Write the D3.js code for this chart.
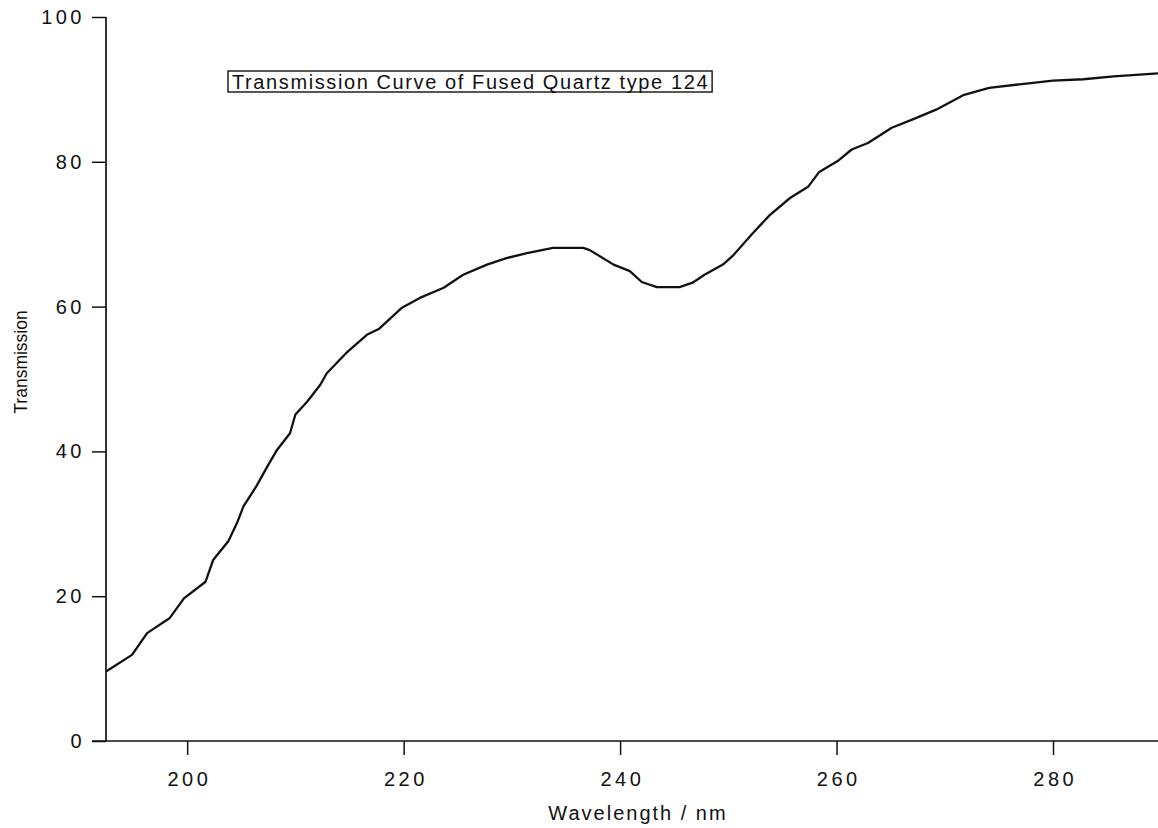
<!DOCTYPE html>
<html>
<head>
<meta charset="utf-8">
<script src="https://cdn.jsdelivr.net/npm/d3@7"></script>
<style>
  html, body { margin: 0; padding: 0; background: #fff; }
  svg { display: block; }
  text { font-family: "Liberation Sans", Arial, Helvetica, sans-serif; fill: #111; }
</style>
</head>
<body>
<svg id="chart" width="1158" height="828"></svg>
<script>
// Transmission spectrum of fused quartz type 124
const wavelength = [
  192.5, 194.9, 196.3, 198.4, 199.7, 201.7, 202.4, 203.8, 204.6, 205.2,
  206.4, 207.4, 208.3, 209.5, 210.0, 211.1, 212.3, 212.9, 214.7, 216.6,
  217.7, 219.8, 221.5, 223.7, 225.5, 227.7, 229.5, 231.4, 233.8, 236.6,
  237.2, 239.4, 240.9, 242.0, 243.4, 245.5, 246.7, 247.8, 249.5, 250.4,
  252.3, 253.8, 255.7, 257.4, 258.4, 260.1, 261.4, 262.9, 265.1, 267.1,
  269.2, 271.7, 274.1, 276.9, 280.0, 282.8, 285.6, 289.7
];
const transmission = [
  9.6, 11.9, 14.9, 17.0, 19.7, 22.0, 25.0, 27.6, 30.1, 32.4,
  35.2, 37.9, 40.2, 42.5, 45.1, 46.9, 49.2, 50.8, 53.6, 56.1,
  56.9, 59.8, 61.2, 62.6, 64.4, 65.8, 66.7, 67.4, 68.1, 68.1,
  67.8, 65.8, 64.9, 63.4, 62.7, 62.7, 63.3, 64.4, 65.8, 67.0,
  70.2, 72.6, 75.0, 76.6, 78.6, 80.1, 81.7, 82.6, 84.7, 85.9,
  87.2, 89.2, 90.2, 90.7, 91.2, 91.4, 91.8, 92.2
];
const xTicks = [200, 220, 240, 260, 280];
const yTicks = [0, 20, 40, 60, 80, 100];
const titleText = "Transmission Curve of Fused Quartz type 124";
const xLabel = "Wavelength / nm";
const yLabel = "Transmission";

const svg = d3.select("#chart");
const plotLeft = 106, plotRight = 1158, plotTop = 17, plotBottom = 741;

const x = d3.scaleLinear().domain([192.5, 289.7]).range([plotLeft, plotRight]);
const y = d3.scaleLinear().domain([0, 100]).range([plotBottom, plotTop]);

// Axes
const xAxis = d3.axisBottom(x).tickValues(xTicks).tickSize(14).tickPadding(17)
  .tickFormat(d3.format("d"));
const yAxis = d3.axisLeft(y).tickValues(yTicks).tickSize(14).tickPadding(7)
  .tickFormat(d3.format("d"));

const gx = svg.append("g").attr("transform", `translate(0,${plotBottom})`).call(xAxis);
const gy = svg.append("g").attr("transform", `translate(${plotLeft},0)`).call(yAxis);

[gx, gy].forEach(g => {
  g.select(".domain").attr("stroke", "#111").attr("stroke-width", 1.7);
  g.selectAll(".tick line").attr("stroke", "#111").attr("stroke-width", 1.5);
  g.selectAll(".tick text")
    .style("font-family", '"Liberation Sans", Arial, sans-serif')
    .style("font-size", "20px")
    .style("letter-spacing", "3.5px")
    .attr("fill", "#111");
});
gx.selectAll(".tick text").attr("dx", "1.75px");
// Plain axis lines without the outer end-caps
gx.select(".domain").attr("d", `M${plotLeft - 14},0H${plotRight}`);
gy.select(".domain").attr("d", `M0,${plotBottom}V${plotTop}`);

// Data line
const pts = wavelength.map((w, i) => [w, transmission[i]]);
svg.append("path")
  .datum(pts)
  .attr("fill", "none")
  .attr("stroke", "#111")
  .attr("stroke-width", 2.3)
  .attr("stroke-linejoin", "round")
  .attr("d", d3.line().x(d => x(d[0])).y(d => y(d[1])));

// Boxed caption
const cap = svg.append("g");
const capText = cap.append("text")
  .attr("x", 232).attr("y", 89)
  .style("font-size", "20px")
  .style("letter-spacing", "1.6px")
  .text(titleText);
const bb = capText.node().getBBox();
cap.insert("rect", "text")
  .attr("x", 228).attr("y", 71)
  .attr("width", bb.x + bb.width + 3 - 228).attr("height", 21)
  .attr("fill", "none").attr("stroke", "#111").attr("stroke-width", 1.4);

// Axis titles
svg.append("text")
  .attr("x", 638).attr("y", 820)
  .attr("text-anchor", "middle")
  .style("font-size", "20px")
  .style("letter-spacing", "2px")
  .text(xLabel);

svg.append("text")
  .attr("transform", "translate(27,362) rotate(-90)")
  .attr("text-anchor", "middle")
  .style("font-size", "17.5px")
  .text(yLabel);
</script>
</body>
</html>
